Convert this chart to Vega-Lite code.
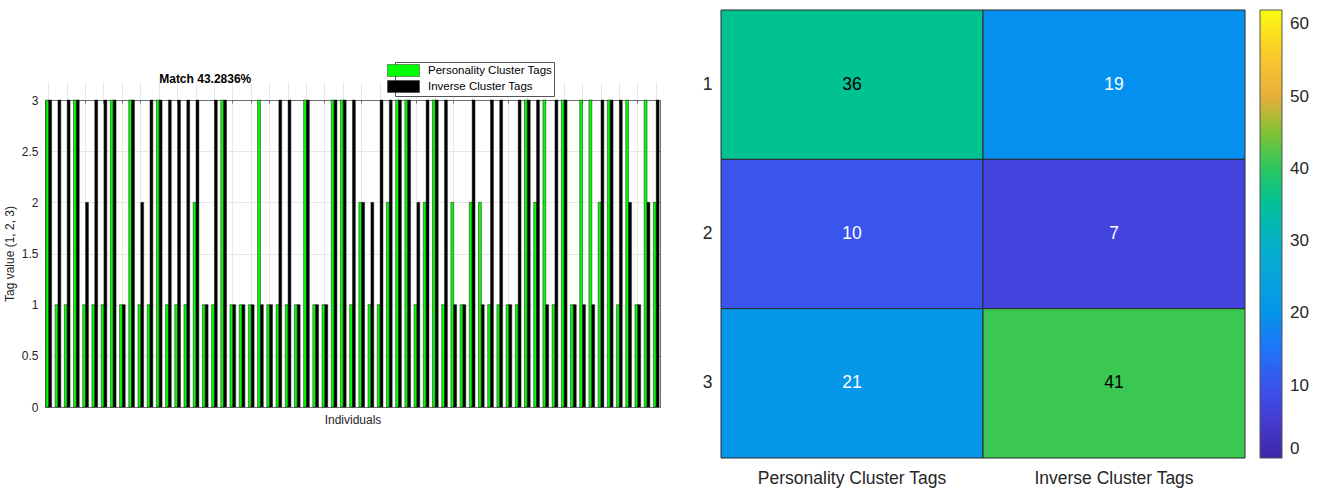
{
  "$schema": "https://vega.github.io/schema/vega-lite/v6.json",
  "width": 1322,
  "height": 489,
  "autosize": "none",
  "padding": 0,
  "background": "white",
  "config": {
    "view": {"stroke": null},
    "font": "Liberation Sans",
    "axis": {"labelFont": "Liberation Sans", "titleFont": "Liberation Sans", "labelLimit": 400},
    "legend": {"labelFont": "Liberation Sans", "labelLimit": 400}
  },
  "layer": [
    {
      "data": {"values": [
        {"i":1,"s":"P","v":3},{"i":1,"s":"I","v":3},
        {"i":2,"s":"P","v":1},{"i":2,"s":"I","v":3},
        {"i":3,"s":"P","v":1},{"i":3,"s":"I","v":3},
        {"i":4,"s":"P","v":3},{"i":4,"s":"I","v":3},
        {"i":5,"s":"P","v":1},{"i":5,"s":"I","v":2},
        {"i":6,"s":"P","v":1},{"i":6,"s":"I","v":3},
        {"i":7,"s":"P","v":1},{"i":7,"s":"I","v":3},
        {"i":8,"s":"P","v":3},{"i":8,"s":"I","v":3},
        {"i":9,"s":"P","v":1},{"i":9,"s":"I","v":1},
        {"i":10,"s":"P","v":3},{"i":10,"s":"I","v":3},
        {"i":11,"s":"P","v":1},{"i":11,"s":"I","v":2},
        {"i":12,"s":"P","v":1},{"i":12,"s":"I","v":3},
        {"i":13,"s":"P","v":3},{"i":13,"s":"I","v":3},
        {"i":14,"s":"P","v":1},{"i":14,"s":"I","v":3},
        {"i":15,"s":"P","v":1},{"i":15,"s":"I","v":3},
        {"i":16,"s":"P","v":1},{"i":16,"s":"I","v":3},
        {"i":17,"s":"P","v":2},{"i":17,"s":"I","v":3},
        {"i":18,"s":"P","v":1},{"i":18,"s":"I","v":1},
        {"i":19,"s":"P","v":1},{"i":19,"s":"I","v":3},
        {"i":20,"s":"P","v":3},{"i":20,"s":"I","v":3},
        {"i":21,"s":"P","v":1},{"i":21,"s":"I","v":1},
        {"i":22,"s":"P","v":1},{"i":22,"s":"I","v":1},
        {"i":23,"s":"P","v":1},{"i":23,"s":"I","v":1},
        {"i":24,"s":"P","v":3},{"i":24,"s":"I","v":1},
        {"i":25,"s":"P","v":1},{"i":25,"s":"I","v":1},
        {"i":26,"s":"P","v":1},{"i":26,"s":"I","v":3},
        {"i":27,"s":"P","v":1},{"i":27,"s":"I","v":3},
        {"i":28,"s":"P","v":1},{"i":28,"s":"I","v":1},
        {"i":29,"s":"P","v":3},{"i":29,"s":"I","v":3},
        {"i":30,"s":"P","v":1},{"i":30,"s":"I","v":1},
        {"i":31,"s":"P","v":1},{"i":31,"s":"I","v":1},
        {"i":32,"s":"P","v":3},{"i":32,"s":"I","v":3},
        {"i":33,"s":"P","v":3},{"i":33,"s":"I","v":3},
        {"i":34,"s":"P","v":1},{"i":34,"s":"I","v":3},
        {"i":35,"s":"P","v":2},{"i":35,"s":"I","v":2},
        {"i":36,"s":"P","v":1},{"i":36,"s":"I","v":2},
        {"i":37,"s":"P","v":1},{"i":37,"s":"I","v":3},
        {"i":38,"s":"P","v":2},{"i":38,"s":"I","v":3},
        {"i":39,"s":"P","v":3},{"i":39,"s":"I","v":3},
        {"i":40,"s":"P","v":3},{"i":40,"s":"I","v":3},
        {"i":41,"s":"P","v":1},{"i":41,"s":"I","v":2},
        {"i":42,"s":"P","v":2},{"i":42,"s":"I","v":3},
        {"i":43,"s":"P","v":3},{"i":43,"s":"I","v":3},
        {"i":44,"s":"P","v":1},{"i":44,"s":"I","v":3},
        {"i":45,"s":"P","v":2},{"i":45,"s":"I","v":1},
        {"i":46,"s":"P","v":1},{"i":46,"s":"I","v":1},
        {"i":47,"s":"P","v":2},{"i":47,"s":"I","v":3},
        {"i":48,"s":"P","v":2},{"i":48,"s":"I","v":1},
        {"i":49,"s":"P","v":1},{"i":49,"s":"I","v":3},
        {"i":50,"s":"P","v":1},{"i":50,"s":"I","v":3},
        {"i":51,"s":"P","v":1},{"i":51,"s":"I","v":1},
        {"i":52,"s":"P","v":1},{"i":52,"s":"I","v":3},
        {"i":53,"s":"P","v":3},{"i":53,"s":"I","v":3},
        {"i":54,"s":"P","v":2},{"i":54,"s":"I","v":3},
        {"i":55,"s":"P","v":3},{"i":55,"s":"I","v":1},
        {"i":56,"s":"P","v":1},{"i":56,"s":"I","v":3},
        {"i":57,"s":"P","v":3},{"i":57,"s":"I","v":3},
        {"i":58,"s":"P","v":1},{"i":58,"s":"I","v":1},
        {"i":59,"s":"P","v":3},{"i":59,"s":"I","v":1},
        {"i":60,"s":"P","v":3},{"i":60,"s":"I","v":1},
        {"i":61,"s":"P","v":2},{"i":61,"s":"I","v":3},
        {"i":62,"s":"P","v":3},{"i":62,"s":"I","v":3},
        {"i":63,"s":"P","v":1},{"i":63,"s":"I","v":3},
        {"i":64,"s":"P","v":3},{"i":64,"s":"I","v":2},
        {"i":65,"s":"P","v":1},{"i":65,"s":"I","v":1},
        {"i":66,"s":"P","v":3},{"i":66,"s":"I","v":2},
        {"i":67,"s":"P","v":2},{"i":67,"s":"I","v":3}
      ]},
      "layer": [
        {
          "mark": {"type": "bar", "stroke": "#1a1a1a", "strokeWidth": 0.5},
          "encoding": {
            "x": {
              "field": "i", "type": "ordinal",
              "scale": {"range": [45, 660], "paddingInner": 0.38, "paddingOuter": 0.1},
              "axis": {
                "orient": "bottom", "offset": -82, "title": "Individuals",
                "labels": false, "ticks": true, "tickSize": -3, "tickColor": "#6e6e6e",
                "values": [1,3,5,7,9,11,13,15,17,19,21,23,25,27,29,31,33,35,37,39,41,43,45,47,49,51,53,55,57,59,61,63,65,67],
                "bandPosition": 0.5,
                "grid": true, "gridColor": "#e8e8e8",
                "domainColor": "#6e6e6e",
                "titleFontSize": 12, "titleFontWeight": "normal", "titleColor": "#262626", "titlePadding": 7
              }
            },
            "xOffset": {"field": "s", "type": "nominal", "scale": {"domain": ["P", "I"], "paddingInner": 0, "paddingOuter": 0}},
            "y": {
              "field": "v", "type": "quantitative",
              "scale": {"domain": [0, 3], "range": [407, 100], "nice": false},
              "axis": {
                "orient": "left", "offset": -45,
                "values": [0, 0.5, 1, 1.5, 2, 2.5, 3], "format": ".1~f",
                "grid": true, "gridColor": "#e8e8e8", "ticks": false,
                "labelPadding": 7, "labelFontSize": 12, "labelColor": "#262626",
                "title": "Tag value (1, 2, 3)", "titleFontSize": 12, "titleFontWeight": "normal",
                "titleColor": "#262626", "titlePadding": 5, "domainColor": "#6e6e6e"
              }
            },
            "color": {
              "field": "s", "type": "nominal",
              "scale": {"domain": ["P", "I"], "range": ["#00ff00", "#000000"]},
              "legend": {
                "orient": "none", "legendX": 395, "legendY": 62, "title": null,
                "labelExpr": "datum.label == 'P' ? 'Personality Cluster Tags' : 'Inverse Cluster Tags'",
                "symbolType": "M-2.667,-1H2.667V1H-2.667Z", "symbolSize": 144,
                "symbolStrokeColor": "#333333", "symbolStrokeWidth": 0.5, "symbolOpacity": 1,
                "labelFontSize": 11.5, "labelColor": "#000000", "labelOffset": 18,
                "padding": 2, "rowPadding": 1, "strokeColor": "#555555", "fillColor": "#ffffff"
              }
            }
          }
        },
        {
          "mark": {"type": "bar", "opacity": 0},
          "encoding": {
            "x": {
              "field": "i", "type": "ordinal",
              "axis": {
                "orient": "top", "offset": -100, "title": null, "labels": false,
                "ticks": true, "tickSize": -3, "tickColor": "#6e6e6e",
                "values": [1,3,5,7,9,11,13,15,17,19,21,23,25,27,29,31,33,35,37,39,41,43,45,47,49,51,53,55,57,59,61,63,65,67],
                "bandPosition": 0.5, "grid": false, "domainColor": "#6e6e6e"
              }
            },
            "y": {
              "field": "v", "type": "quantitative",
              "axis": {
                "orient": "right", "offset": -662, "title": null, "labels": false,
                "ticks": true, "tickSize": -3, "tickColor": "#6e6e6e",
                "values": [0, 0.5, 1, 1.5, 2, 2.5, 3], "grid": false, "domainColor": "#6e6e6e"
              }
            }
          }
        },
        {
          "data": {"values": [{"label": "Match 43.2836%", "i": 18, "v": 3.205}]},
          "mark": {"type": "text", "fontSize": 12, "fontWeight": "bold", "font": "Liberation Sans", "color": "#000000", "align": "center", "baseline": "middle"},
          "encoding": {
            "x": {"field": "i", "type": "ordinal", "axis": null},
            "y": {"field": "v", "type": "quantitative", "axis": null},
            "text": {"field": "label", "type": "nominal"}
          }
        }
      ],
      "resolve": {"axis": {"x": "independent", "y": "independent"}}
    },
    {
      "data": {"values": [
        {"row": "1", "col": "Personality Cluster Tags", "count": 36},
        {"row": "1", "col": "Inverse Cluster Tags", "count": 19},
        {"row": "2", "col": "Personality Cluster Tags", "count": 10},
        {"row": "2", "col": "Inverse Cluster Tags", "count": 7},
        {"row": "3", "col": "Personality Cluster Tags", "count": 21},
        {"row": "3", "col": "Inverse Cluster Tags", "count": 41}
      ]},
      "layer": [
        {
          "mark": {"type": "rect", "stroke": "#2b2b2b", "strokeWidth": 1},
          "encoding": {
            "x": {
              "field": "col", "type": "nominal",
              "scale": {"domain": ["Personality Cluster Tags", "Inverse Cluster Tags"], "range": [721, 1245], "paddingInner": 0, "paddingOuter": 0},
              "axis": {
                "orient": "bottom", "offset": -31, "title": null, "ticks": false, "domain": false,
                "labelFontSize": 17.5, "labelPadding": 11, "labelColor": "#262626", "labelAngle": 0, "labelLimit": 400
              }
            },
            "y": {
              "field": "row", "type": "ordinal",
              "scale": {"domain": ["1", "2", "3"], "range": [10, 458], "paddingInner": 0, "paddingOuter": 0},
              "axis": {
                "orient": "left", "offset": -721, "title": null, "ticks": false, "domain": false,
                "labelFontSize": 17.5, "labelPadding": 9, "labelColor": "#262626", "labelAngle": 0
              }
            },
            "color": {
              "field": "count", "type": "quantitative",
              "scale": {
                "domain": [0, 6.2, 12.4, 18.6, 24.8, 31, 37.2, 43.4, 49.6, 55.8, 62],
                "range": ["#3e26a8", "#4640da", "#3260fb", "#0590f0", "#07a3dc", "#05b4c2", "#00c684", "#5ec932", "#e6ad3a", "#fdc72e", "#f9fb0e"],
                "interpolate": "rgb"
              },
              "legend": {
                "orient": "none", "legendX": 1260, "legendY": 10, "direction": "vertical",
                "gradientLength": 448, "gradientThickness": 22, "title": null,
                "values": [0, 10, 20, 30, 40, 50, 60],
                "labelFontSize": 17, "labelColor": "#262626", "labelOffset": 8,
                "labelBaseline": "middle",
                "gradientStrokeColor": "#555555", "gradientStrokeWidth": 1,
                "labelOverlap": false, "padding": 0
              }
            }
          }
        },
        {
          "mark": {"type": "text", "fontSize": 17.5, "font": "Liberation Sans"},
          "encoding": {
            "x": {"field": "col", "type": "nominal"},
            "y": {"field": "row", "type": "ordinal"},
            "text": {"field": "count", "type": "quantitative"},
            "color": {"condition": {"test": "datum.count > 30", "value": "#000000"}, "value": "#ffffff"}
          }
        }
      ]
    }
  ],
  "resolve": {"scale": {"x": "independent", "y": "independent", "color": "independent"}}
}
